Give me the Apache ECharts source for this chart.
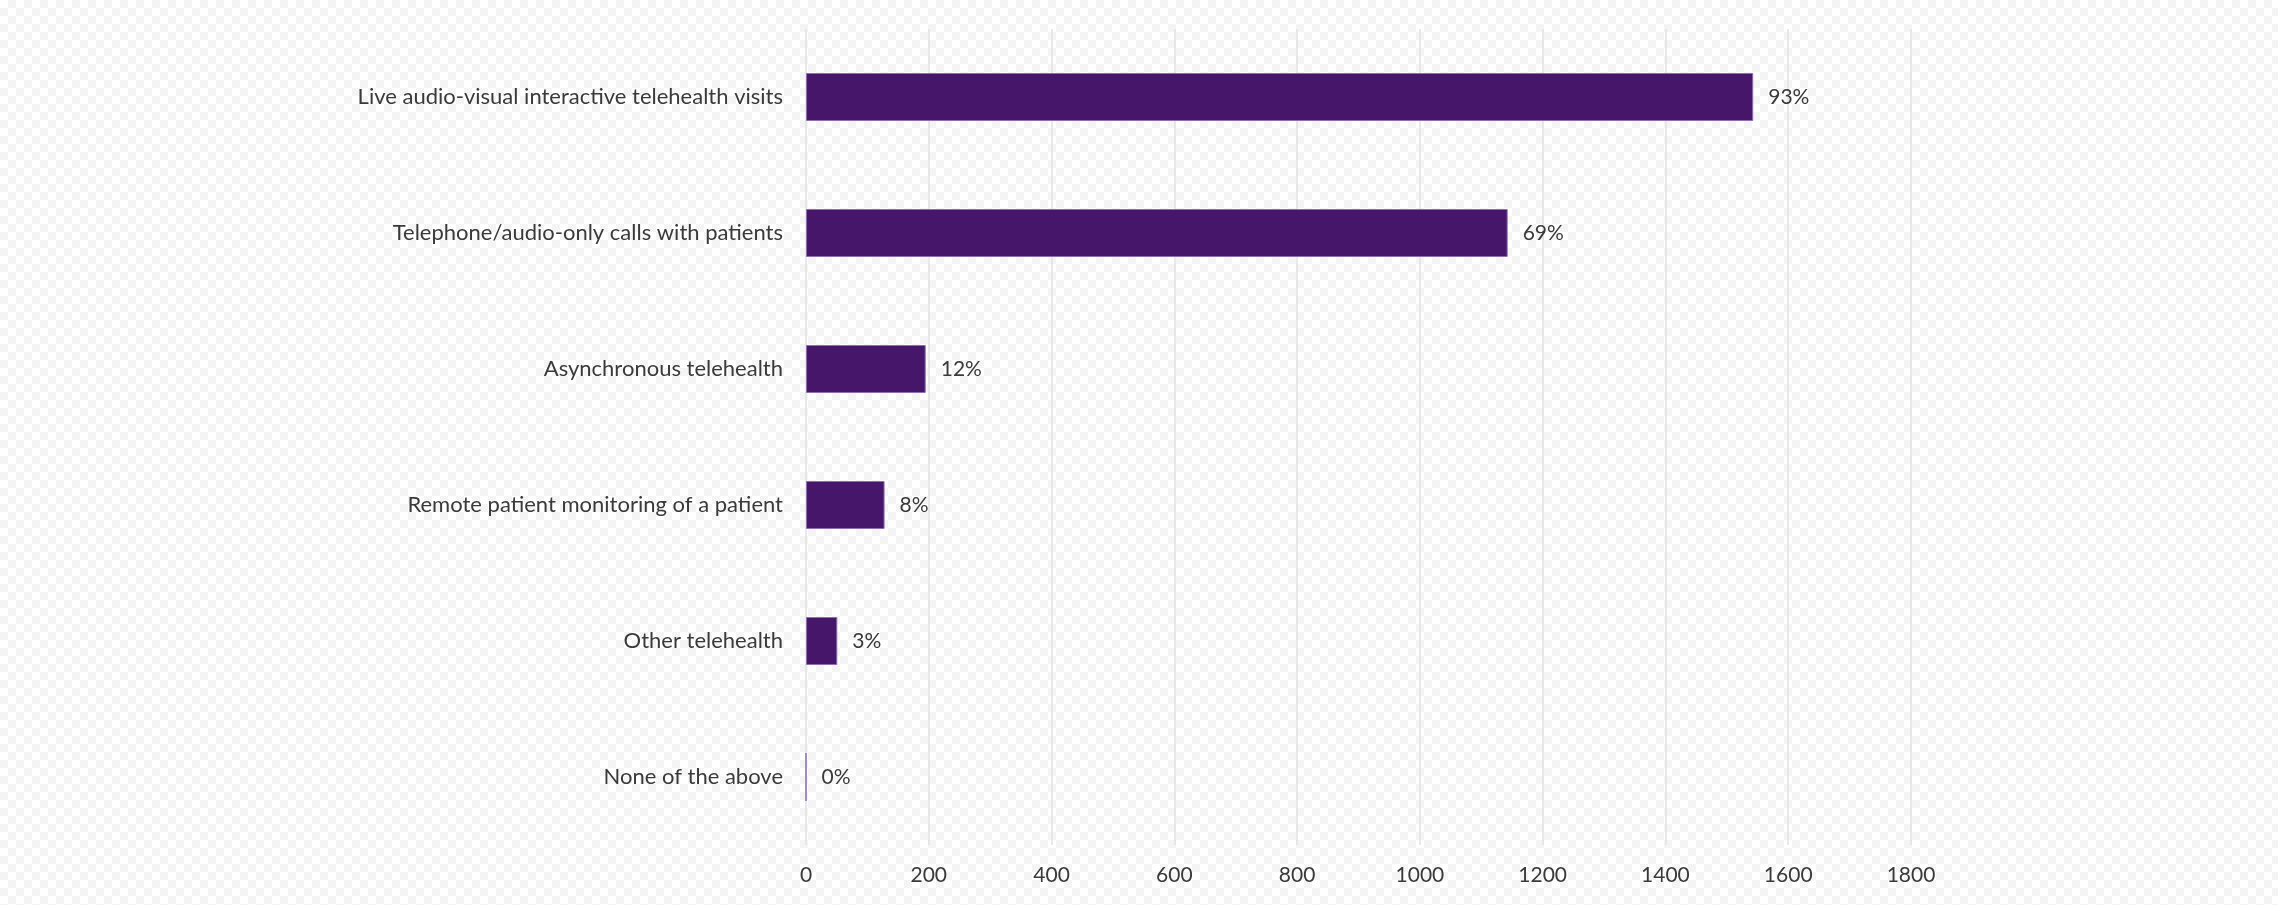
<!DOCTYPE html>
<html>
<head>
<meta charset="utf-8">
<script src="https://cdn.jsdelivr.net/npm/echarts@6/dist/echarts.min.js"></script>
<style>
html,body{margin:0;padding:0;width:2278px;height:905px;overflow:hidden;}
body{background-color:#ffffff;
background-image:linear-gradient(45deg,#f4f4f4 25%,transparent 25%,transparent 75%,#f4f4f4 75%),linear-gradient(45deg,#f4f4f4 25%,transparent 25%,transparent 75%,#f4f4f4 75%);
background-size:16px 16px;background-position:0 0,8px 8px;}
#chart{width:2278px;height:905px;}
</style>
</head>
<body>
<div id="chart"></div>
<script>
const categories = [
  "Live audio-visual interactive telehealth visits",
  "Telephone/audio-only calls with patients",
  "Asynchronous telehealth",
  "Remote patient monitoring of a patient",
  "Other telehealth",
  "None of the above"
];
const counts = [1543, 1143, 195, 128, 51, 0];
const percentLabels = ["93%", "69%", "12%", "8%", "3%", "0%"];
const xTicks = [0, 200, 400, 600, 800, 1000, 1200, 1400, 1600, 1800];

const chart = echarts.init(document.getElementById('chart'), null, {renderer:'canvas'});
chart.setOption({
  backgroundColor: 'transparent',
  animation: false,
  grid: {left: 806, right: 2278 - 1911, top: 29, bottom: 905 - 845, containLabel: false},
  xAxis: {
    type: 'value', min: xTicks[0], max: xTicks[xTicks.length - 1], interval: 200,
    axisLine: {show: false}, axisTick: {show: false},
    splitLine: {show: true, lineStyle: {color: '#e2e2e2', width: 1.5}},
    axisLabel: {color: '#3a3a3a', fontFamily: 'Lato', fontSize: 21, margin: 20,
      formatter: v => String(v)}
  },
  yAxis: {
    type: 'category', inverse: true, data: categories,
    axisLine: {show: false}, axisTick: {show: false},
    axisLabel: {color: '#3a3a3a', fontFamily: 'Lato', fontSize: 22, margin: 23}
  },
  series: [{
    type: 'bar', data: counts, barWidth: 48,
    itemStyle: {color: '#46166a', borderColor: '#8c6fab', borderWidth: 1},
    label: {
      show: true, position: 'right', distance: 15,
      color: '#3a3a3a', fontFamily: 'Lato', fontSize: 21,
      formatter: p => percentLabels[p.dataIndex]
    }
  }]
});
</script>
</body>
</html>
